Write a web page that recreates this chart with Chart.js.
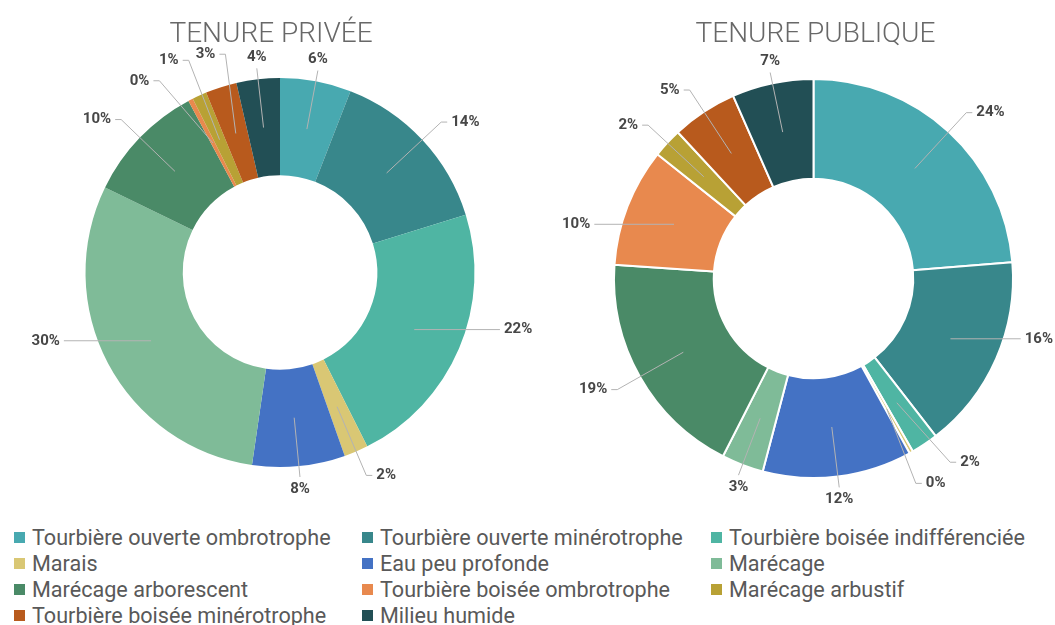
<!DOCTYPE html>
<html lang="fr">
<head>
<meta charset="utf-8">
<script src="https://cdn.jsdelivr.net/npm/chart.js@4.4.1/dist/chart.umd.min.js"></script>
<style>
html,body{margin:0;padding:0;background:#fff;width:1055px;height:625px;overflow:hidden;font-family:Roboto,"Noto Sans",sans-serif;}
#c1wrap{position:absolute;left:0;top:0;width:560px;height:515px;}
#c2wrap{position:absolute;left:560px;top:0;width:495px;height:515px;}
#legend{position:absolute;left:14px;top:524px;width:1041px;display:grid;grid-template-columns:348px 349px 330px;}
.item{display:flex;align-items:center;height:26px;font-size:21.6px;color:#595959;white-space:nowrap;}
.sw{width:11px;height:11px;margin-right:7px;flex:none;}
</style>
</head>
<body>
<div id="c1wrap"><canvas id="c1"></canvas></div>
<div id="c2wrap"><canvas id="c2"></canvas></div>
<div id="legend"></div>
<script>
const categories = [
  'Tourbière ouverte ombrotrophe', 'Tourbière ouverte minérotrophe', 'Tourbière boisée indifférenciée',
  'Marais', 'Eau peu profonde', 'Marécage',
  'Marécage arborescent', 'Tourbière boisée ombrotrophe', 'Marécage arbustif',
  'Tourbière boisée minérotrophe', 'Milieu humide'
];
const priveeValues   = [5.9, 14.3, 22.4, 2.0, 7.7, 29.9, 10.0, 0.4, 1.2, 2.6, 3.6];
const publiqueValues = [23.7, 15.8, 2.2, 0.3, 12.1, 3.4, 18.6, 9.6, 2.4, 5.3, 6.6];
const chartTitles = ['TENURE PRIVÉE', 'TENURE PUBLIQUE'];
const colors = ['#48A9B0', '#38878B', '#4FB5A3', '#D9C774', '#4472C4', '#7FBB98',
                '#4A8A67', '#E8894E', '#B8A135', '#B85A1D', '#224F55'];

const outLabels = {
  id: 'outLabels',
  afterDraw(chart, args, opts) {
    const meta = chart.getDatasetMeta(0);
    const arcs = meta.data;
    if (!arcs.length) return;
    const vals = chart.data.datasets[0].data;
    const total = vals.reduce((a, b) => a + b, 0);
    const ctx = chart.ctx;
    const W = chart.width;
    const cx = arcs[0].x, cy = arcs[0].y;
    const R = arcs[0].outerRadius, r0 = arcs[0].innerRadius;
    const rm = (R + r0) / 2;
    const H = 14;
    ctx.save();
    ctx.font = 'bold 15px Roboto';
    const L = arcs.map((a, i) => {
      const th = (a.startAngle + a.endAngle) / 2 + Math.PI / 2;
      const text = Math.round(vals[i] / total * 100) + '%';
      return { th, phi: th, dr: 0, text, w: ctx.measureText(text).width };
    });
    function place(l) {
      const s = Math.sin(l.phi), c = -Math.cos(l.phi);
      const dir = s >= 0 ? 1 : -1;
      l.dir = dir;
      const vert = (c < 0 && Math.abs(s) < 0.21) || (c > 0 && Math.abs(s) < 0.38);
      if (Math.abs(s) > 0.88) {
        l.mode = 'h';
        const y = cy + rm * c;
        const edge = Math.sqrt(Math.max(R * R - (y - cy) * (y - cy), 0));
        l.ex = cx + dir * (edge + 34 + l.dr); l.ey = y;
        l.tx = l.ex + dir * 4; l.ty = y;
        if (dir > 0 && l.tx + l.w > W - 2) { l.tx = W - 2 - l.w; l.ex = l.tx - 4; }
        if (dir < 0 && l.tx - l.w < 2) { l.tx = 2 + l.w; l.ex = l.tx + 4; }
      } else if (vert) {
        l.mode = 'v';
        const rr = R + 11 + l.dr;
        const px = cx + rr * s, py = cy + rr * c;
        l.ex = px; l.ey = py;
        l.tx = px; l.ty = py + (c < 0 ? -11 : 12);
      } else {
        l.mode = 'e';
        const rr = R + 26 + l.dr;
        const px = cx + rr * s, py = cy + rr * c;
        l.px = px; l.py = py;
        l.ex = px + dir * 6; l.ey = py;
        l.tx = l.ex + dir * 4; l.ty = py;
      }
      if (l.mode === 'v') { l.x0 = l.tx - l.w / 2; l.x1 = l.tx + l.w / 2; }
      else if (dir > 0) { l.x0 = l.tx; l.x1 = l.tx + l.w; }
      else { l.x0 = l.tx - l.w; l.x1 = l.tx; }
      l.y0 = l.ty - H / 2; l.y1 = l.ty + H / 2;
    }
    L.forEach(place);
    const step = 0.4 * Math.PI / 180;
    const mx = 16, my = 6;
    for (let it = 0; it < 600; it++) {
      let moved = false;
      for (let i = 0; i < L.length; i++) {
        for (let j = i + 1; j < L.length; j++) {
          const a = L[i], b = L[j];
          if (a.x0 < b.x1 + mx && b.x0 < a.x1 + mx && a.y0 < b.y1 + my && b.y0 < a.y1 + my) {
            let d = b.phi - a.phi;
            d = Math.atan2(Math.sin(d), Math.cos(d));
            if (d >= 0) { a.phi -= step; b.phi += step; } else { a.phi += step; b.phi -= step; }
            a.dr = Math.min(a.dr + 0.5, 30); b.dr = Math.min(b.dr + 0.5, 30);
            place(a); place(b); moved = true;
          }
        }
      }
      if (!moved) break;
    }
    ctx.strokeStyle = '#b3b3b3';
    ctx.lineWidth = 1;
    L.forEach(l => {
      const ax = cx + rm * Math.sin(l.th), ay = cy - rm * Math.cos(l.th);
      ctx.beginPath();
      ctx.moveTo(ax, ay);
      if (l.mode === 'e') { ctx.lineTo(l.px, l.py); }
      ctx.lineTo(l.ex, l.ey);
      ctx.stroke();
    });
    ctx.fillStyle = '#474747';
    ctx.textBaseline = 'middle';
    L.forEach(l => {
      ctx.textAlign = l.mode === 'v' ? 'center' : (l.dir > 0 ? 'left' : 'right');
      ctx.fillText(l.text, l.tx, l.ty);
    });
    ctx.font = '300 28px Roboto';
    ctx.fillStyle = '#686868';
    ctx.textAlign = 'center';
    ctx.textBaseline = 'alphabetic';
    ctx.fillText(opts.title, cx + opts.titleDx, 42);
    ctx.restore();
  }
};

function makeChart(id, values, title, border, padding, titleDx) {
  return new Chart(document.getElementById(id), {
    type: 'doughnut',
    data: {
      labels: categories,
      datasets: [{ data: values, backgroundColor: colors, borderColor: '#ffffff', borderWidth: border, hoverOffset: 0 }]
    },
    options: {
      responsive: true,
      maintainAspectRatio: false,
      animation: false,
      cutout: '50%',
      layout: { padding },
      plugins: {
        legend: { display: false },
        tooltip: { enabled: false },
        outLabels: { title, titleDx }
      }
    },
    plugins: [outLabels]
  });
}

makeChart('c1', priveeValues, chartTitles[0], 0, { top: 78, bottom: 48, left: 0, right: 0 }, -9);
makeChart('c2', publiqueValues, chartTitles[1], 2, { top: 78, bottom: 36, left: 12, right: 0 }, 2);

const legend = document.getElementById('legend');
categories.forEach((name, i) => {
  const it = document.createElement('div');
  it.className = 'item';
  const sw = document.createElement('span');
  sw.className = 'sw';
  sw.style.background = colors[i];
  const tx = document.createElement('span');
  tx.textContent = name;
  it.appendChild(sw);
  it.appendChild(tx);
  legend.appendChild(it);
});
</script>
</body>
</html>
